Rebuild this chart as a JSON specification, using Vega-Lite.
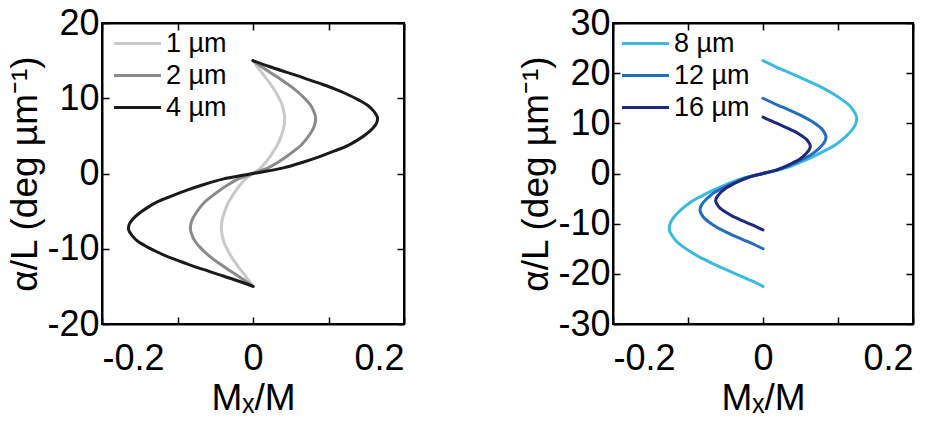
{
  "$schema": "https://vega.github.io/schema/vega-lite/v6.json",
  "background": "white",
  "padding": {"left": 5, "top": 4, "right": 0, "bottom": 0},
  "spacing": 110,
  "config": {
    "font": "Liberation Sans",
    "view": {"stroke": "black", "strokeWidth": 2},
    "axis": {
      "grid": false, "domain": true, "domainColor": "black", "domainWidth": 2,
      "ticks": true, "tickColor": "black", "tickWidth": 1.5, "tickSize": -7,
      "labelFont": "Liberation Sans", "labelFontSize": 36, "labelColor": "black",
      "titleFont": "Liberation Sans", "titleFontSize": 37, "titleFontWeight": "normal", "titleColor": "black"
    },
    "axisX": {"labelPadding": 24, "titlePadding": 4},
    "axisY": {"labelPadding": 10, "titlePadding": 2},
    "legend": {
      "symbolType": "M-1.5,0L1.5,0", "symbolStrokeWidth": 3, "symbolSize": 980,
      "labelFont": "Liberation Sans", "labelFontSize": 27, "labelColor": "black",
      "labelOffset": 11, "padding": 0, "rowPadding": 1, "title": null
    }
  },
  "resolve": {"scale": {"x": "independent", "y": "independent", "color": "independent"}, "legend": {"color": "independent"}},
  "datasets": {
    "a": [
      {"s":"1 µm","x":0,"y":15},{"s":"1 µm","x":0.0053,"y":14.25},{"s":"1 µm","x":0.0109,"y":13.5},{"s":"1 µm","x":0.0168,"y":12.75},{"s":"1 µm","x":0.0223,"y":12},{"s":"1 µm","x":0.0275,"y":11.25},{"s":"1 µm","x":0.0319,"y":10.5},{"s":"1 µm","x":0.0357,"y":9.75},{"s":"1 µm","x":0.0389,"y":9},{"s":"1 µm","x":0.0407,"y":8.25},{"s":"1 µm","x":0.0419,"y":7.5},{"s":"1 µm","x":0.0417,"y":6.75},{"s":"1 µm","x":0.0404,"y":6},{"s":"1 µm","x":0.0382,"y":5.25},{"s":"1 µm","x":0.0355,"y":4.5},{"s":"1 µm","x":0.0321,"y":3.75},{"s":"1 µm","x":0.0275,"y":3},{"s":"1 µm","x":0.0225,"y":2.25},{"s":"1 µm","x":0.0168,"y":1.5},{"s":"1 µm","x":0.0102,"y":0.75},{"s":"1 µm","x":0,"y":0},
      {"s":"1 µm","x":-0.0102,"y":-0.75},{"s":"1 µm","x":-0.0168,"y":-1.5},{"s":"1 µm","x":-0.0225,"y":-2.25},{"s":"1 µm","x":-0.0275,"y":-3},{"s":"1 µm","x":-0.0321,"y":-3.75},{"s":"1 µm","x":-0.0355,"y":-4.5},{"s":"1 µm","x":-0.0382,"y":-5.25},{"s":"1 µm","x":-0.0404,"y":-6},{"s":"1 µm","x":-0.0417,"y":-6.75},{"s":"1 µm","x":-0.0419,"y":-7.5},{"s":"1 µm","x":-0.0407,"y":-8.25},{"s":"1 µm","x":-0.0389,"y":-9},{"s":"1 µm","x":-0.0357,"y":-9.75},{"s":"1 µm","x":-0.0319,"y":-10.5},{"s":"1 µm","x":-0.0275,"y":-11.25},{"s":"1 µm","x":-0.0223,"y":-12},{"s":"1 µm","x":-0.0168,"y":-12.75},{"s":"1 µm","x":-0.0109,"y":-13.5},{"s":"1 µm","x":-0.0053,"y":-14.25},{"s":"1 µm","x":0,"y":-15},
      {"s":"2 µm","x":0,"y":15},{"s":"2 µm","x":0.0104,"y":14.25},{"s":"2 µm","x":0.0216,"y":13.5},{"s":"2 µm","x":0.0332,"y":12.75},{"s":"2 µm","x":0.044,"y":12},{"s":"2 µm","x":0.0544,"y":11.25},{"s":"2 µm","x":0.0631,"y":10.5},{"s":"2 µm","x":0.0706,"y":9.75},{"s":"2 µm","x":0.0768,"y":9},{"s":"2 µm","x":0.0805,"y":8.25},{"s":"2 µm","x":0.0828,"y":7.5},{"s":"2 µm","x":0.0824,"y":6.75},{"s":"2 µm","x":0.0799,"y":6},{"s":"2 µm","x":0.0755,"y":5.25},{"s":"2 µm","x":0.0701,"y":4.5},{"s":"2 µm","x":0.0635,"y":3.75},{"s":"2 µm","x":0.0544,"y":3},{"s":"2 µm","x":0.0444,"y":2.25},{"s":"2 µm","x":0.0332,"y":1.5},{"s":"2 µm","x":0.0202,"y":0.75},{"s":"2 µm","x":0,"y":0},
      {"s":"2 µm","x":-0.0202,"y":-0.75},{"s":"2 µm","x":-0.0332,"y":-1.5},{"s":"2 µm","x":-0.0444,"y":-2.25},{"s":"2 µm","x":-0.0544,"y":-3},{"s":"2 µm","x":-0.0635,"y":-3.75},{"s":"2 µm","x":-0.0701,"y":-4.5},{"s":"2 µm","x":-0.0755,"y":-5.25},{"s":"2 µm","x":-0.0799,"y":-6},{"s":"2 µm","x":-0.0824,"y":-6.75},{"s":"2 µm","x":-0.0828,"y":-7.5},{"s":"2 µm","x":-0.0805,"y":-8.25},{"s":"2 µm","x":-0.0768,"y":-9},{"s":"2 µm","x":-0.0706,"y":-9.75},{"s":"2 µm","x":-0.0631,"y":-10.5},{"s":"2 µm","x":-0.0544,"y":-11.25},{"s":"2 µm","x":-0.044,"y":-12},{"s":"2 µm","x":-0.0332,"y":-12.75},{"s":"2 µm","x":-0.0216,"y":-13.5},{"s":"2 µm","x":-0.0104,"y":-14.25},{"s":"2 µm","x":0,"y":-15},
      {"s":"4 µm","x":0,"y":15},{"s":"4 µm","x":0.0206,"y":14.25},{"s":"4 µm","x":0.0429,"y":13.5},{"s":"4 µm","x":0.066,"y":12.75},{"s":"4 µm","x":0.0875,"y":12},{"s":"4 µm","x":0.1081,"y":11.25},{"s":"4 µm","x":0.1254,"y":10.5},{"s":"4 µm","x":0.1403,"y":9.75},{"s":"4 µm","x":0.1526,"y":9},{"s":"4 µm","x":0.1601,"y":8.25},{"s":"4 µm","x":0.1647,"y":7.5},{"s":"4 µm","x":0.1639,"y":6.75},{"s":"4 µm","x":0.1587,"y":6},{"s":"4 µm","x":0.1502,"y":5.25},{"s":"4 µm","x":0.1394,"y":4.5},{"s":"4 µm","x":0.1262,"y":3.75},{"s":"4 µm","x":0.1081,"y":3},{"s":"4 µm","x":0.0883,"y":2.25},{"s":"4 µm","x":0.066,"y":1.5},{"s":"4 µm","x":0.0401,"y":0.75},{"s":"4 µm","x":0,"y":0},
      {"s":"4 µm","x":-0.0401,"y":-0.75},{"s":"4 µm","x":-0.066,"y":-1.5},{"s":"4 µm","x":-0.0883,"y":-2.25},{"s":"4 µm","x":-0.1081,"y":-3},{"s":"4 µm","x":-0.1262,"y":-3.75},{"s":"4 µm","x":-0.1394,"y":-4.5},{"s":"4 µm","x":-0.1502,"y":-5.25},{"s":"4 µm","x":-0.1587,"y":-6},{"s":"4 µm","x":-0.1639,"y":-6.75},{"s":"4 µm","x":-0.1647,"y":-7.5},{"s":"4 µm","x":-0.1601,"y":-8.25},{"s":"4 µm","x":-0.1526,"y":-9},{"s":"4 µm","x":-0.1403,"y":-9.75},{"s":"4 µm","x":-0.1254,"y":-10.5},{"s":"4 µm","x":-0.1081,"y":-11.25},{"s":"4 µm","x":-0.0875,"y":-12},{"s":"4 µm","x":-0.066,"y":-12.75},{"s":"4 µm","x":-0.0429,"y":-13.5},{"s":"4 µm","x":-0.0206,"y":-14.25},{"s":"4 µm","x":0,"y":-15}
    ],
    "b": [
      {"s":"8 µm","x":0,"y":22.5},{"s":"8 µm","x":0.0156,"y":21.375},{"s":"8 µm","x":0.0325,"y":20.25},{"s":"8 µm","x":0.05,"y":19.125},{"s":"8 µm","x":0.0663,"y":18},{"s":"8 µm","x":0.0819,"y":16.875},{"s":"8 µm","x":0.095,"y":15.75},{"s":"8 µm","x":0.1063,"y":14.625},{"s":"8 µm","x":0.1156,"y":13.5},{"s":"8 µm","x":0.1213,"y":12.375},{"s":"8 µm","x":0.1248,"y":11.25},{"s":"8 µm","x":0.1241,"y":10.125},{"s":"8 µm","x":0.1203,"y":9},{"s":"8 µm","x":0.1138,"y":7.875},{"s":"8 µm","x":0.1056,"y":6.75},{"s":"8 µm","x":0.0956,"y":5.625},{"s":"8 µm","x":0.0819,"y":4.5},{"s":"8 µm","x":0.0669,"y":3.375},{"s":"8 µm","x":0.05,"y":2.25},{"s":"8 µm","x":0.0304,"y":1.125},{"s":"8 µm","x":0,"y":0},
      {"s":"8 µm","x":-0.0304,"y":-1.125},{"s":"8 µm","x":-0.05,"y":-2.25},{"s":"8 µm","x":-0.0669,"y":-3.375},{"s":"8 µm","x":-0.0819,"y":-4.5},{"s":"8 µm","x":-0.0956,"y":-5.625},{"s":"8 µm","x":-0.1056,"y":-6.75},{"s":"8 µm","x":-0.1138,"y":-7.875},{"s":"8 µm","x":-0.1203,"y":-9},{"s":"8 µm","x":-0.1241,"y":-10.125},{"s":"8 µm","x":-0.1248,"y":-11.25},{"s":"8 µm","x":-0.1213,"y":-12.375},{"s":"8 µm","x":-0.1156,"y":-13.5},{"s":"8 µm","x":-0.1063,"y":-14.625},{"s":"8 µm","x":-0.095,"y":-15.75},{"s":"8 µm","x":-0.0819,"y":-16.875},{"s":"8 µm","x":-0.0663,"y":-18},{"s":"8 µm","x":-0.05,"y":-19.125},{"s":"8 µm","x":-0.0325,"y":-20.25},{"s":"8 µm","x":-0.0156,"y":-21.375},{"s":"8 µm","x":0,"y":-22.5},
      {"s":"12 µm","x":0,"y":15},{"s":"12 µm","x":0.0105,"y":14.25},{"s":"12 µm","x":0.0218,"y":13.5},{"s":"12 µm","x":0.0336,"y":12.75},{"s":"12 µm","x":0.0445,"y":12},{"s":"12 µm","x":0.055,"y":11.25},{"s":"12 µm","x":0.0638,"y":10.5},{"s":"12 µm","x":0.0714,"y":9.75},{"s":"12 µm","x":0.0777,"y":9},{"s":"12 µm","x":0.0815,"y":8.25},{"s":"12 µm","x":0.0838,"y":7.5},{"s":"12 µm","x":0.0834,"y":6.75},{"s":"12 µm","x":0.0808,"y":6},{"s":"12 µm","x":0.0764,"y":5.25},{"s":"12 µm","x":0.071,"y":4.5},{"s":"12 µm","x":0.0643,"y":3.75},{"s":"12 µm","x":0.055,"y":3},{"s":"12 µm","x":0.0449,"y":2.25},{"s":"12 µm","x":0.0336,"y":1.5},{"s":"12 µm","x":0.0204,"y":0.75},{"s":"12 µm","x":0,"y":0},
      {"s":"12 µm","x":-0.0204,"y":-0.75},{"s":"12 µm","x":-0.0336,"y":-1.5},{"s":"12 µm","x":-0.0449,"y":-2.25},{"s":"12 µm","x":-0.055,"y":-3},{"s":"12 µm","x":-0.0643,"y":-3.75},{"s":"12 µm","x":-0.071,"y":-4.5},{"s":"12 µm","x":-0.0764,"y":-5.25},{"s":"12 µm","x":-0.0808,"y":-6},{"s":"12 µm","x":-0.0834,"y":-6.75},{"s":"12 µm","x":-0.0838,"y":-7.5},{"s":"12 µm","x":-0.0815,"y":-8.25},{"s":"12 µm","x":-0.0777,"y":-9},{"s":"12 µm","x":-0.0714,"y":-9.75},{"s":"12 µm","x":-0.0638,"y":-10.5},{"s":"12 µm","x":-0.055,"y":-11.25},{"s":"12 µm","x":-0.0445,"y":-12},{"s":"12 µm","x":-0.0336,"y":-12.75},{"s":"12 µm","x":-0.0218,"y":-13.5},{"s":"12 µm","x":-0.0105,"y":-14.25},{"s":"12 µm","x":0,"y":-15},
      {"s":"16 µm","x":0,"y":11.25},{"s":"16 µm","x":0.0079,"y":10.6875},{"s":"16 µm","x":0.0164,"y":10.125},{"s":"16 µm","x":0.0252,"y":9.5625},{"s":"16 µm","x":0.0334,"y":9},{"s":"16 µm","x":0.0413,"y":8.4375},{"s":"16 µm","x":0.0479,"y":7.875},{"s":"16 µm","x":0.0536,"y":7.3125},{"s":"16 µm","x":0.0583,"y":6.75},{"s":"16 µm","x":0.0611,"y":6.1875},{"s":"16 µm","x":0.0629,"y":5.625},{"s":"16 µm","x":0.0626,"y":5.0625},{"s":"16 µm","x":0.0606,"y":4.5},{"s":"16 µm","x":0.0573,"y":3.9375},{"s":"16 µm","x":0.0532,"y":3.375},{"s":"16 µm","x":0.0482,"y":2.8125},{"s":"16 µm","x":0.0413,"y":2.25},{"s":"16 µm","x":0.0337,"y":1.6875},{"s":"16 µm","x":0.0252,"y":1.125},{"s":"16 µm","x":0.0153,"y":0.5625},{"s":"16 µm","x":0,"y":0},
      {"s":"16 µm","x":-0.0153,"y":-0.5625},{"s":"16 µm","x":-0.0252,"y":-1.125},{"s":"16 µm","x":-0.0337,"y":-1.6875},{"s":"16 µm","x":-0.0413,"y":-2.25},{"s":"16 µm","x":-0.0482,"y":-2.8125},{"s":"16 µm","x":-0.0532,"y":-3.375},{"s":"16 µm","x":-0.0573,"y":-3.9375},{"s":"16 µm","x":-0.0606,"y":-4.5},{"s":"16 µm","x":-0.0626,"y":-5.0625},{"s":"16 µm","x":-0.0629,"y":-5.625},{"s":"16 µm","x":-0.0611,"y":-6.1875},{"s":"16 µm","x":-0.0583,"y":-6.75},{"s":"16 µm","x":-0.0536,"y":-7.3125},{"s":"16 µm","x":-0.0479,"y":-7.875},{"s":"16 µm","x":-0.0413,"y":-8.4375},{"s":"16 µm","x":-0.0334,"y":-9},{"s":"16 µm","x":-0.0252,"y":-9.5625},{"s":"16 µm","x":-0.0164,"y":-10.125},{"s":"16 µm","x":-0.0079,"y":-10.6875},{"s":"16 µm","x":0,"y":-11.25}
    ]
  },
  "hconcat": [
    {
      "width": 302, "height": 301,
      "data": {"name": "a"},
      "layer": [
        {
          "mark": {"type": "line", "strokeWidth": 3, "strokeCap": "round", "strokeJoin": "round", "interpolate": "catmull-rom"},
          "encoding": {
            "x": {"field": "x", "type": "quantitative", "scale": {"domain": [-0.2, 0.2], "nice": false, "zero": false},
                  "axis": {"title": "Mₓ/M", "values": [-0.2, -0.1, 0, 0.1, 0.2], "format": "~g",
                           "labelExpr": "abs(abs(datum.value)-0.1) < 0.000001 ? '' : replace(datum.label, '−', '-')"}},
            "y": {"field": "y", "type": "quantitative", "scale": {"domain": [-20, 20], "nice": false, "zero": false},
                  "axis": {"title": "α/L (deg µm⁻¹)", "values": [-20, -10, 0, 10, 20], "format": "d",
                           "labelExpr": "replace(datum.label, '−', '-')"}},
            "color": {"field": "s", "type": "nominal",
                      "scale": {"domain": ["1 µm", "2 µm", "4 µm"], "range": ["#c9c9c9", "#8a8a8a", "#1a1a1a"]},
                      "legend": {"orient": "none", "legendX": 18, "legendY": 3}},
            "order": {"value": null}
          }
        },
        {
          "mark": {"type": "point", "opacity": 0},
          "encoding": {
            "x": {"field": "x", "type": "quantitative", "axis": {"orient": "top", "values": [-0.2, -0.1, 0, 0.1, 0.2], "labels": false, "title": null}},
            "y": {"field": "y", "type": "quantitative", "axis": {"orient": "right", "values": [-20, -10, 0, 10, 20], "labels": false, "title": null}}
          }
        }
      ],
      "resolve": {"axis": {"x": "independent", "y": "independent"}}
    },
    {
      "width": 300, "height": 301,
      "data": {"name": "b"},
      "layer": [
        {
          "mark": {"type": "line", "strokeWidth": 3, "strokeCap": "round", "strokeJoin": "round", "interpolate": "catmull-rom"},
          "encoding": {
            "x": {"field": "x", "type": "quantitative", "scale": {"domain": [-0.2, 0.2], "nice": false, "zero": false},
                  "axis": {"title": "Mₓ/M", "values": [-0.2, -0.1, 0, 0.1, 0.2], "format": "~g",
                           "labelExpr": "abs(abs(datum.value)-0.1) < 0.000001 ? '' : replace(datum.label, '−', '-')"}},
            "y": {"field": "y", "type": "quantitative", "scale": {"domain": [-30, 30], "nice": false, "zero": false},
                  "axis": {"title": "α/L (deg µm⁻¹)", "values": [-30, -20, -10, 0, 10, 20, 30], "format": "d",
                           "labelExpr": "replace(datum.label, '−', '-')"}},
            "color": {"field": "s", "type": "nominal",
                      "scale": {"domain": ["8 µm", "12 µm", "16 µm"], "range": ["#3cb9e1", "#236eb9", "#1e287d"]},
                      "legend": {"orient": "none", "legendX": 15, "legendY": 3}},
            "order": {"value": null}
          }
        },
        {
          "mark": {"type": "point", "opacity": 0},
          "encoding": {
            "x": {"field": "x", "type": "quantitative", "axis": {"orient": "top", "values": [-0.2, -0.1, 0, 0.1, 0.2], "labels": false, "title": null}},
            "y": {"field": "y", "type": "quantitative", "axis": {"orient": "right", "values": [-30, -20, -10, 0, 10, 20, 30], "labels": false, "title": null}}
          }
        }
      ],
      "resolve": {"axis": {"x": "independent", "y": "independent"}}
    }
  ]
}
